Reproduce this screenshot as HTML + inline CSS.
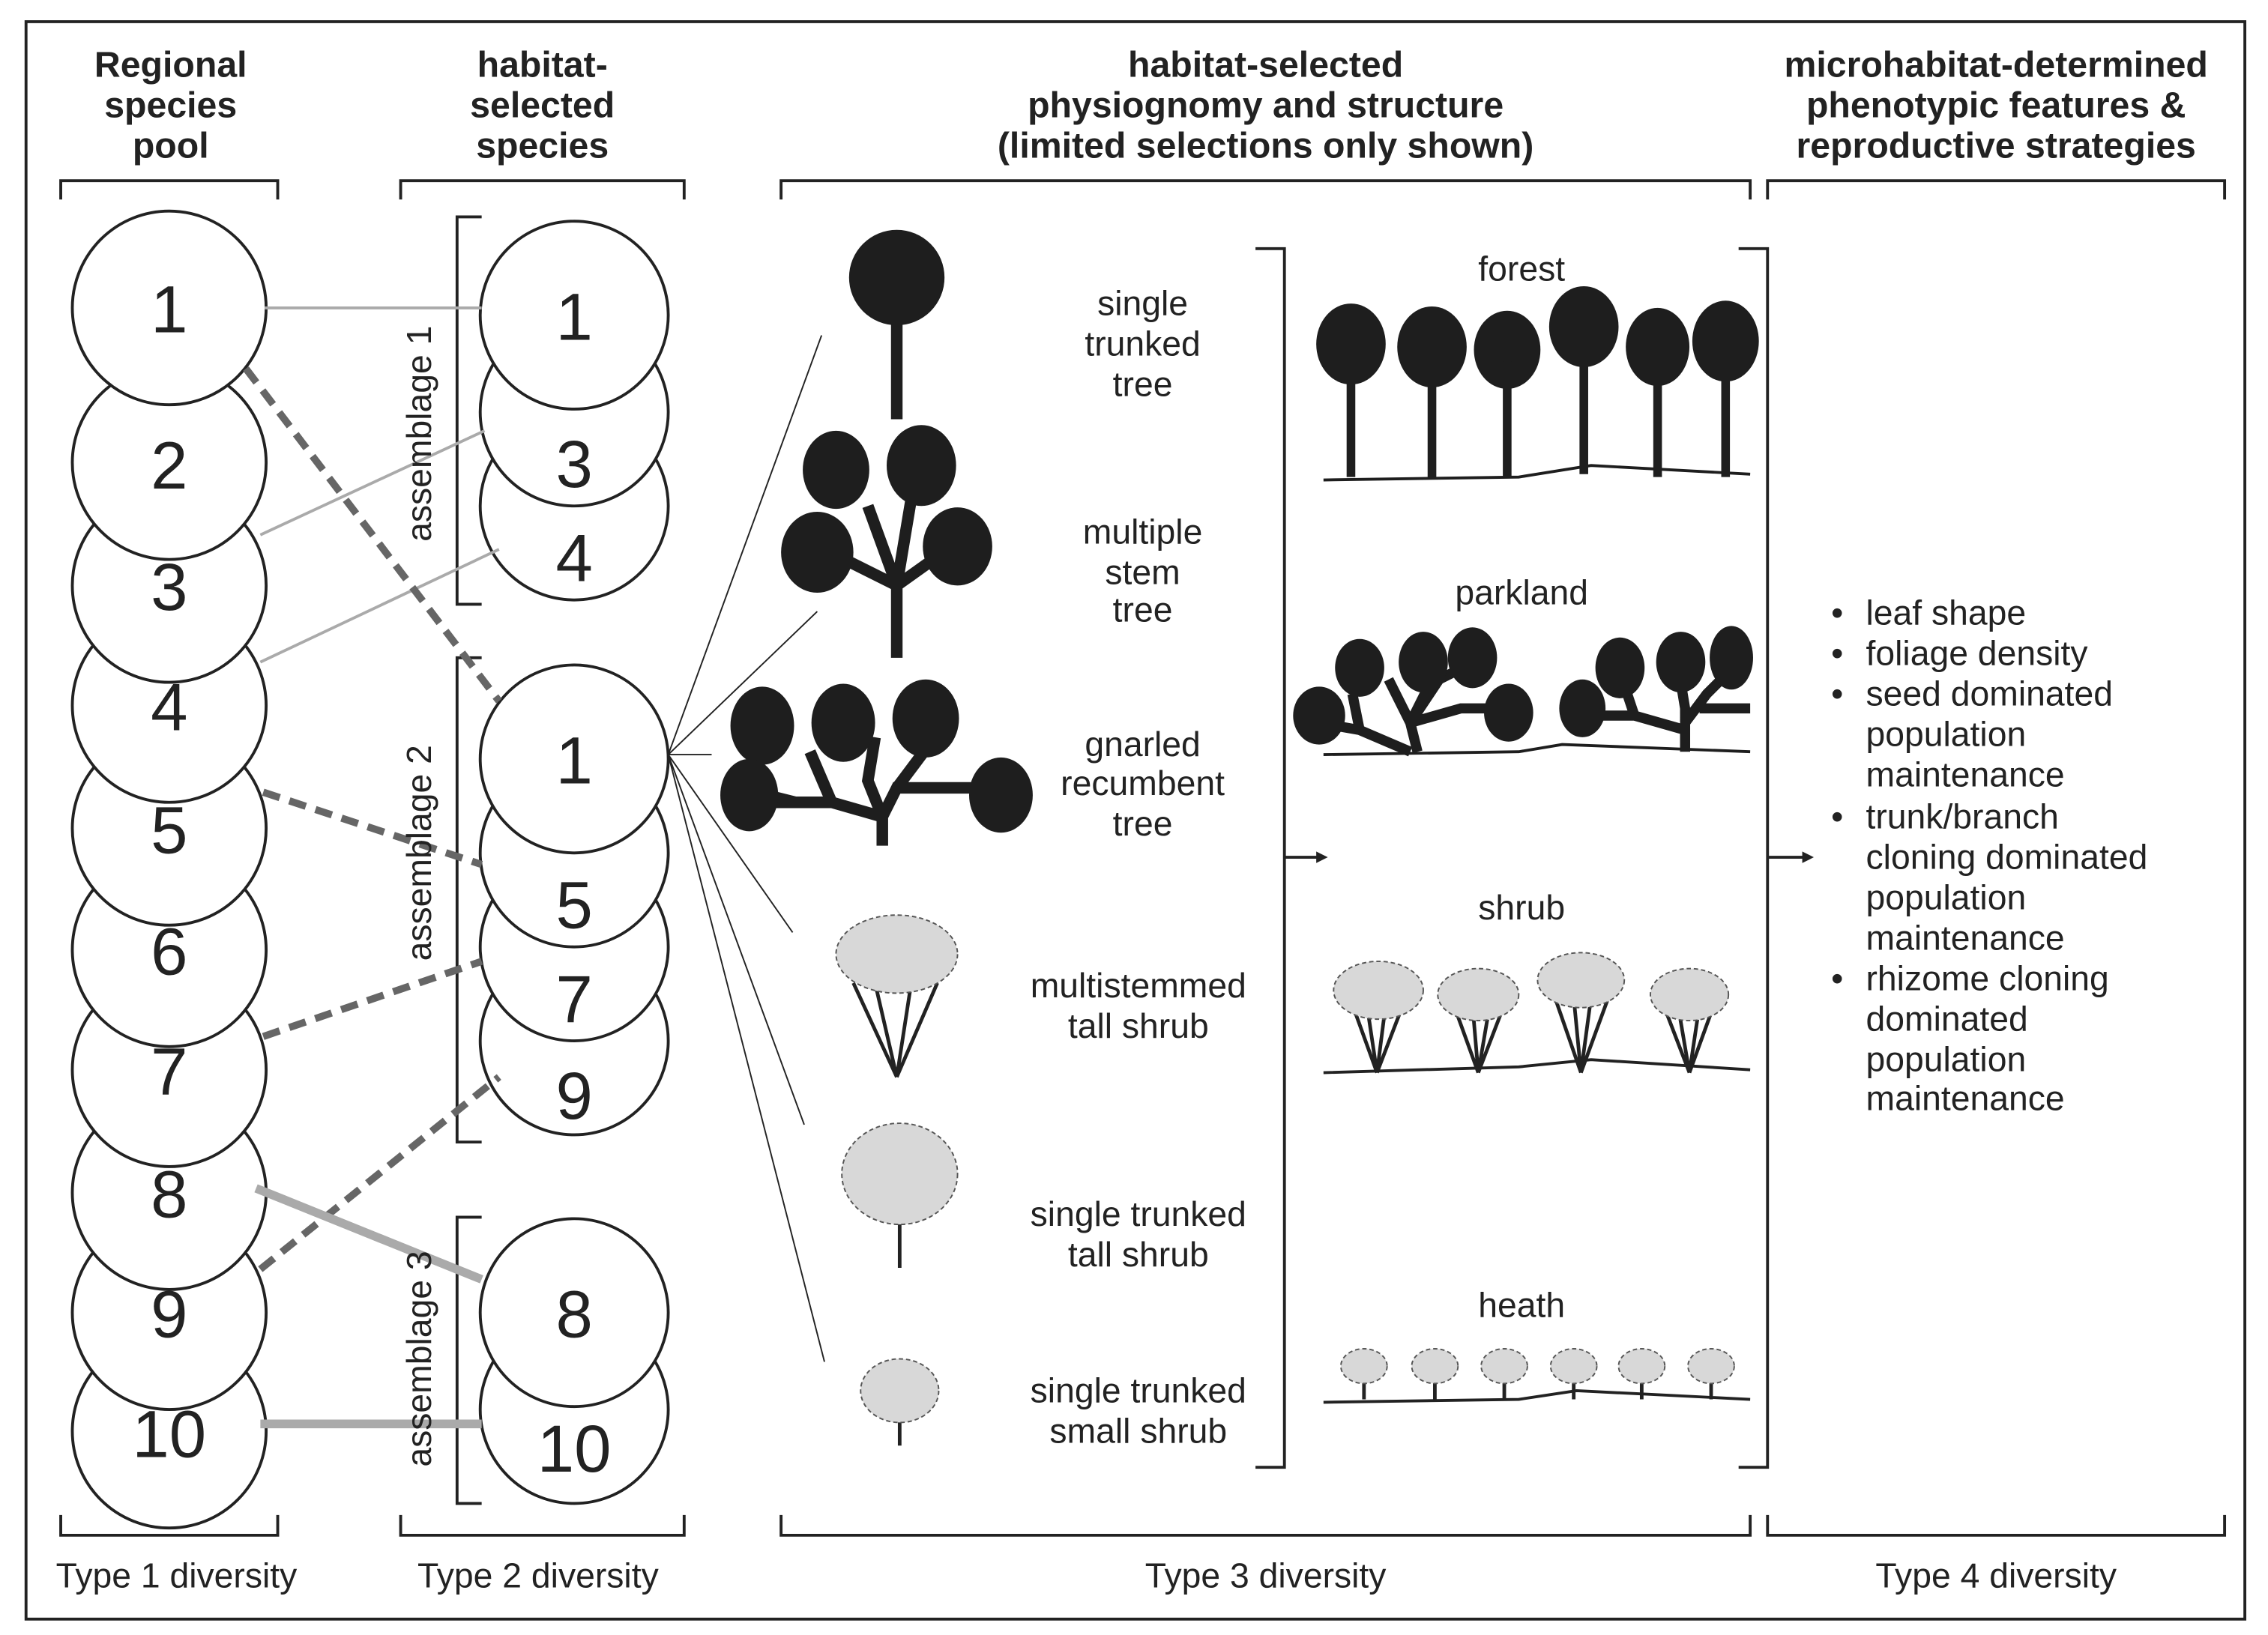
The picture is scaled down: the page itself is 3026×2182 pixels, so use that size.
<!DOCTYPE html>
<html><head><meta charset="utf-8"><style>
html,body{margin:0;padding:0;background:#fff}
svg{display:block}
text{font-family:"Liberation Sans",sans-serif;fill:#222}
.h{font-weight:bold;font-size:25px;text-anchor:middle}
.t{font-size:24px;text-anchor:middle}
.n{font-size:46px;text-anchor:middle}
.l{font-size:24px}
</style></head><body>
<svg width="3026" height="2182" viewBox="0 0 1568 1131" preserveAspectRatio="none" xmlns="http://www.w3.org/2000/svg">
<rect x="18" y="15" width="1534" height="1105" fill="none" stroke="#222" stroke-width="2"/>
<g class="h">
<text class="h" x="118" y="53">Regional</text><text class="h" x="118" y="81">species</text><text class="h" x="118" y="109">pool</text>
<text class="h" x="375" y="53">habitat-</text><text class="h" x="375" y="81">selected</text><text class="h" x="375" y="109">species</text>
<text class="h" x="875" y="53">habitat-selected</text><text class="h" x="875" y="81">physiognomy and structure</text><text class="h" x="875" y="109">(limited selections only shown)</text>
<text class="h" x="1380" y="53">microhabitat-determined</text><text class="h" x="1380" y="81">phenotypic features &amp;</text><text class="h" x="1380" y="109">reproductive strategies</text>
</g>
<g fill="none" stroke="#222" stroke-width="2">
<path d="M42 138V125H192V138M277 138V125H473V138M540 138V125H1210V138M1222 138V125H1538V138"/>
<path d="M42 1048V1062H192V1048M277 1048V1062H473V1048M540 1048V1062H1210V1048M1222 1048V1062H1538V1048"/>
<path d="M333 150H316V418H333M333 455H316V790H333M333 842H316V1040H333"/>
<path d="M868 172H888V1015H868M1202 172H1222V1015H1202"/>
<path d="M888 593H915M1222 593H1250"/>
</g>
<path d="M918 593l-8-4v8zM1254 593l-8-4v8z" fill="#222"/>
<text class="t" x="122" y="1098">Type 1 diversity</text>
<text class="t" x="372" y="1098">Type 2 diversity</text>
<text class="t" x="875" y="1098">Type 3 diversity</text>
<text class="t" x="1380" y="1098">Type 4 diversity</text>
<g fill="#fff" stroke="#222" stroke-width="2">
<circle cx="117" cy="990" r="67"/><circle cx="117" cy="908" r="67"/><circle cx="117" cy="825" r="67"/><circle cx="117" cy="740" r="67"/><circle cx="117" cy="657" r="67"/><circle cx="117" cy="573" r="67"/><circle cx="117" cy="488" r="67"/><circle cx="117" cy="405" r="67"/><circle cx="117" cy="320" r="67"/><circle cx="117" cy="213" r="67"/>
<circle cx="397" cy="350" r="65"/><circle cx="397" cy="285" r="65"/><circle cx="397" cy="218" r="65"/>
<circle cx="397" cy="720" r="65"/><circle cx="397" cy="655" r="65"/><circle cx="397" cy="590" r="65"/><circle cx="397" cy="525" r="65"/>
<circle cx="397" cy="975" r="65"/><circle cx="397" cy="908" r="65"/>
</g>
<g>
<text class="n" x="117" y="230">1</text><text class="n" x="117" y="338">2</text><text class="n" x="117" y="422">3</text><text class="n" x="117" y="505">4</text><text class="n" x="117" y="590">5</text><text class="n" x="117" y="674">6</text><text class="n" x="117" y="757">7</text><text class="n" x="117" y="842">8</text><text class="n" x="117" y="925">9</text><text class="n" x="117" y="1008">10</text>
<text class="n" x="397" y="235">1</text><text class="n" x="397" y="337">3</text><text class="n" x="397" y="402">4</text>
<text class="n" x="397" y="542">1</text><text class="n" x="397" y="642">5</text><text class="n" x="397" y="707">7</text><text class="n" x="397" y="774">9</text>
<text class="n" x="397" y="925">8</text><text class="n" x="397" y="1018">10</text>
</g>
<g stroke="#aaa" stroke-width="2"><path d="M183 213H333M180 370L335 298M180 458L345 380"/></g>
<g stroke="#666" stroke-width="5" stroke-dasharray="12 7"><path d="M170 255L345 485M182 548L333 598M182 717L333 665M180 878L345 745"/></g>
<g stroke="#aaa" stroke-width="6"><path d="M177 822L333 885M180 985H333"/></g>
<g><text class="t" transform="translate(298 300) rotate(-90)">assemblage 1</text>
<text class="t" transform="translate(298 590) rotate(-90)">assemblage 2</text>
<text class="t" transform="translate(298 940) rotate(-90)">assemblage 3</text></g>
<g stroke="#222" stroke-width="1"><path d="M462 522L568 232M462 522L565 423M462 522H492M462 522L548 645M462 522L556 778M462 522L570 942"/></g>
<g fill="#1e1e1e" stroke="#1e1e1e">
<circle cx="620" cy="192" r="33" stroke="none"/><path d="M620 220V290" stroke-width="8" fill="none"/>
<g fill="none" stroke-width="8"><path d="M620 455V405M620 405L570 380M620 405L600 350M620 405L630 345M620 405L655 380"/></g>
<g stroke="none"><ellipse cx="578" cy="325" rx="23" ry="27"/><ellipse cx="637" cy="322" rx="24" ry="28"/><ellipse cx="565" cy="382" rx="25" ry="28"/><ellipse cx="662" cy="378" rx="24" ry="27"/></g>
<g fill="none" stroke-width="8"><path d="M610 585V565L600 540L605 510M610 565L575 555L510 555M575 555L560 520M550 555L530 550M610 565L620 545L655 545L690 545M620 545L650 505"/></g>
<g stroke="none"><ellipse cx="527" cy="502" rx="22" ry="27"/><ellipse cx="583" cy="500" rx="22" ry="27"/><ellipse cx="640" cy="497" rx="23" ry="27"/><ellipse cx="518" cy="550" rx="20" ry="25"/><ellipse cx="692" cy="550" rx="22" ry="26"/></g>
<g stroke="none"><ellipse cx="934" cy="238" rx="24" ry="28"/><ellipse cx="990" cy="240" rx="24" ry="28"/><ellipse cx="1042" cy="242" rx="23" ry="27"/><ellipse cx="1095" cy="226" rx="24" ry="28"/><ellipse cx="1146" cy="240" rx="22" ry="27"/><ellipse cx="1193" cy="236" rx="23" ry="28"/></g>
<g fill="none" stroke-width="6"><path d="M934 250V330M990 250V330M1042 250V330M1095 250V328M1146 250V330M1193 250V330"/></g>
<path d="M915 332L1050 330L1100 322L1210 328" fill="none" stroke-width="2"/>
<g fill="none" stroke-width="7"><path d="M980 520L975 500L960 470M975 500L985 480L988 460M975 500L995 470L1015 460M975 500L1010 490L1040 490M975 520L940 505L912 500M940 505L935 480M1165 520V490L1160 460M1165 500L1180 480L1200 460M1165 505L1130 495L1095 495M1130 495L1120 465M1175 490L1210 490"/></g>
<g stroke="none"><ellipse cx="940" cy="462" rx="17" ry="20"/><ellipse cx="984" cy="458" rx="17" ry="21"/><ellipse cx="1018" cy="455" rx="17" ry="21"/><ellipse cx="912" cy="495" rx="18" ry="20"/><ellipse cx="1043" cy="493" rx="17" ry="20"/><ellipse cx="1120" cy="462" rx="17" ry="21"/><ellipse cx="1162" cy="458" rx="17" ry="21"/><ellipse cx="1197" cy="455" rx="15" ry="22"/><ellipse cx="1094" cy="490" rx="16" ry="20"/></g>
<path d="M915 522L1050 520L1080 515L1210 520" fill="none" stroke-width="2"/>
</g>
<g stroke="#222" fill="none" stroke-width="2.5">
<path d="M620 745L590 680M620 745L605 680M620 745L630 680M620 745L648 680"/>
<path d="M622 877V830"/><path d="M622 1000V975"/>
<path d="M952 742L935 695M952 742L945 695M952 742L958 695M952 742L970 695M1022 742L1005 695M1022 742L1018 695M1022 742L1030 695M1022 742L1040 695M1093 742L1075 690M1093 742L1088 690M1093 742L1100 690M1093 742L1112 690M1168 742L1150 695M1168 742L1160 695M1168 742L1175 695M1168 742L1185 695"/>
<path d="M915 742L1050 738L1100 733L1210 740" stroke-width="2"/>
<path d="M943 968V952M992 968V952M1040 968V952M1088 968V952M1135 968V952M1183 968V952"/>
<path d="M915 970L1050 968L1090 962L1210 968" stroke-width="2"/>
</g>
<g fill="#d8d8d8" stroke="#555" stroke-width="1" stroke-dasharray="3 2">
<ellipse cx="620" cy="660" rx="42" ry="27"/><ellipse cx="622" cy="812" rx="40" ry="35"/><ellipse cx="622" cy="962" rx="27" ry="22"/>
<ellipse cx="953" cy="685" rx="31" ry="20"/><ellipse cx="1022" cy="688" rx="28" ry="18"/><ellipse cx="1093" cy="678" rx="30" ry="19"/><ellipse cx="1168" cy="688" rx="27" ry="18"/>
<ellipse cx="943" cy="945" rx="16" ry="12"/><ellipse cx="992" cy="945" rx="16" ry="12"/><ellipse cx="1040" cy="945" rx="16" ry="12"/><ellipse cx="1088" cy="945" rx="16" ry="12"/><ellipse cx="1135" cy="945" rx="16" ry="12"/><ellipse cx="1183" cy="945" rx="16" ry="12"/>
</g>
<g>
<text class="t" x="790" y="218">single</text><text class="t" x="790" y="246">trunked</text><text class="t" x="790" y="274">tree</text>
<text class="t" x="790" y="376">multiple</text><text class="t" x="790" y="404">stem</text><text class="t" x="790" y="430">tree</text>
<text class="t" x="790" y="523">gnarled</text><text class="t" x="790" y="550">recumbent</text><text class="t" x="790" y="578">tree</text>
<text class="t" x="787" y="690">multistemmed</text><text class="t" x="787" y="718">tall shrub</text>
<text class="t" x="787" y="848">single trunked</text><text class="t" x="787" y="876">tall shrub</text>
<text class="t" x="787" y="970">single trunked</text><text class="t" x="787" y="998">small shrub</text>
<text class="t" x="1052" y="194">forest</text><text class="t" x="1052" y="418">parkland</text><text class="t" x="1052" y="636">shrub</text><text class="t" x="1052" y="911">heath</text>
</g>
<g class="l">
<text class="l" x="1266" y="432">•</text><text class="l" x="1290" y="432">leaf shape</text>
<text class="l" x="1266" y="460">•</text><text class="l" x="1290" y="460">foliage density</text>
<text class="l" x="1266" y="488">•</text><text class="l" x="1290" y="488">seed dominated</text>
<text class="l" x="1290" y="516">population</text><text class="l" x="1290" y="544">maintenance</text>
<text class="l" x="1266" y="573">•</text><text class="l" x="1290" y="573">trunk/branch</text>
<text class="l" x="1290" y="601">cloning dominated</text><text class="l" x="1290" y="629">population</text><text class="l" x="1290" y="657">maintenance</text>
<text class="l" x="1266" y="685">•</text><text class="l" x="1290" y="685">rhizome cloning</text>
<text class="l" x="1290" y="713">dominated</text><text class="l" x="1290" y="741">population</text><text class="l" x="1290" y="768">maintenance</text>
</g>
</svg>
</body></html>
